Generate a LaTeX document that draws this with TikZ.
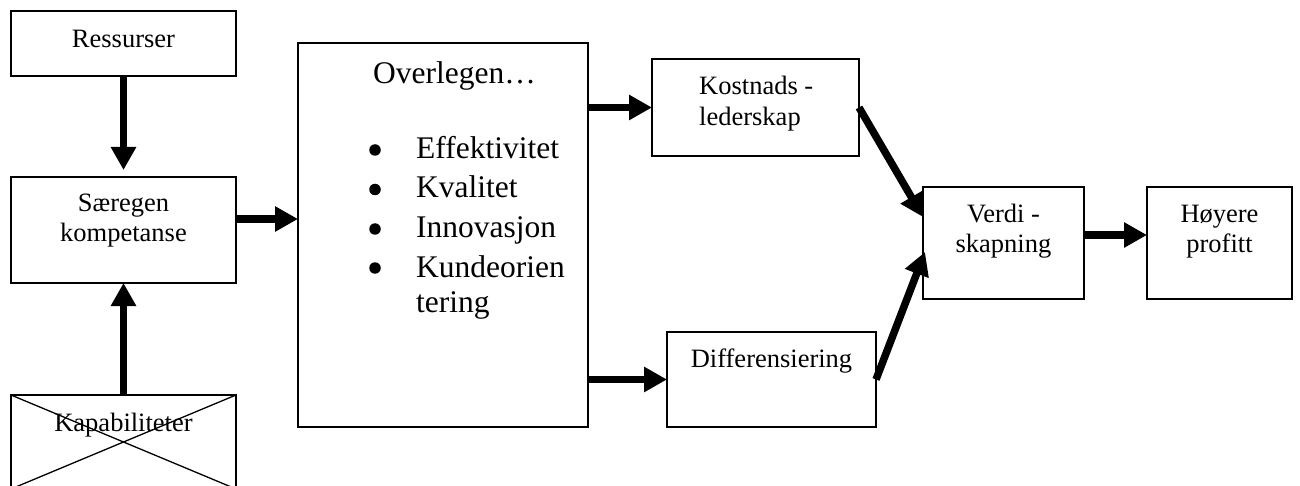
\documentclass[tikz,border=0pt]{standalone}
\usepackage{fontspec}
\setmainfont{Liberation Serif}
\usetikzlibrary{arrows.meta}
\begin{document}
\begin{tikzpicture}[x=1pt,y=-1pt,
  box/.style={draw, line width=1.3pt, inner sep=0pt, outer sep=0pt},
  txt/.style={inner sep=0pt, font=\fontsize{26.5pt}{30pt}\selectfont},
  bigtxt/.style={inner sep=0pt, font=\fontsize{31.5pt}{38pt}\selectfont},
  bullet/.style={circle, fill=black, inner sep=0pt, minimum size=11.5pt},
  arr/.style={line width=7.5pt, -{Triangle[length=23pt,width=24pt]}}]
\useasboundingbox (0,0) rectangle (1300,486);
\clip (0,0) rectangle (1300,486);
% boxes
\node[box, minimum width=225pt, minimum height=65pt]  (res) at (123.5,43.5) {};
\node[box, minimum width=225pt, minimum height=106pt] (sar) at (123.5,230) {};
\node[box, minimum width=225pt, minimum height=94pt]  (kap) at (123.5,442) {};
\node[box, minimum width=290pt, minimum height=384pt] (ovl) at (443,235) {};
\node[box, minimum width=207pt, minimum height=97pt]  (kos) at (755.5,107.5) {};
\node[box, minimum width=209pt, minimum height=95pt]  (dif) at (771.5,379.5) {};
\node[box, minimum width=161pt, minimum height=112pt] (ver) at (1003.5,243) {};
\node[box, minimum width=145pt, minimum height=112pt] (hoy) at (1219.5,243) {};
% cross on Kapabiliteter
\draw[line width=1.3pt] (kap.north west) -- (kap.south east);
\draw[line width=1.3pt] (kap.north east) -- (kap.south west);
% texts
\node[txt, anchor=base] (tres) at (123.5,48) {Ressurser};
\node[txt, anchor=base] (tsar1) at (123.5,212) {Særegen};
\node[txt, anchor=base] (tsar2) at (123.5,242) {kompetanse};
\node[txt, anchor=base] (tkap) at (123.5,431) {Kapabiliteter};
\node[bigtxt, anchor=base west] (tovl) at (373,84) {Overlegen…};
\node[bullet] (b1) at (375,150) {};
\node[bullet] (b2) at (375,189.5) {};
\node[bullet] (b3) at (375,229) {};
\node[bullet] (b4) at (375,268) {};
\node[bigtxt, anchor=base west] (i1) at (416,159) {Effektivitet};
\node[bigtxt, anchor=base west] (i2) at (416,198) {Kvalitet};
\node[bigtxt, anchor=base west] (i3) at (416,237) {Innovasjon};
\node[bigtxt, anchor=base west] (i4) at (416,277) {Kundeorien};
\node[bigtxt, anchor=base west] (i5) at (416,312) {tering};
\node[txt, anchor=base west] (tkos1) at (699,95) {Kostnads -};
\node[txt, anchor=base west] (tkos2) at (699,126) {lederskap};
\node[txt, anchor=base] (tdif) at (771.5,367) {Differensiering};
\node[txt, anchor=base] (tver1) at (1003.5,223) {Verdi -};
\node[txt, anchor=base] (tver2) at (1003.5,253) {skapning};
\node[txt, anchor=base] (thoy1) at (1219.5,223) {Høyere};
\node[txt, anchor=base] (thoy2) at (1219.5,253) {profitt};
% connectors
\draw[arr] (res.south) -- ([yshift=7pt]sar.north);
\draw[arr] (kap.north) -- (sar.south);
\coordinate (sarout) at ([yshift=11pt]sar.east);
\draw[arr] (sarout) -- (sarout -| ovl.west);
\draw[arr] (ovl.east |- kos.west) -- (kos.west);
\draw[arr] (ovl.east |- dif.west) -- (dif.west);
\draw[arr] (kos.east) -- ([yshift=26pt]ver.west);
\draw[arr] (dif.east) -- ([xshift=2pt,yshift=-9pt]ver.west);
\coordinate (verout) at ([yshift=8pt]ver.east);
\draw[arr] (verout) -- (verout -| hoy.west);
\end{tikzpicture}
\end{document}
